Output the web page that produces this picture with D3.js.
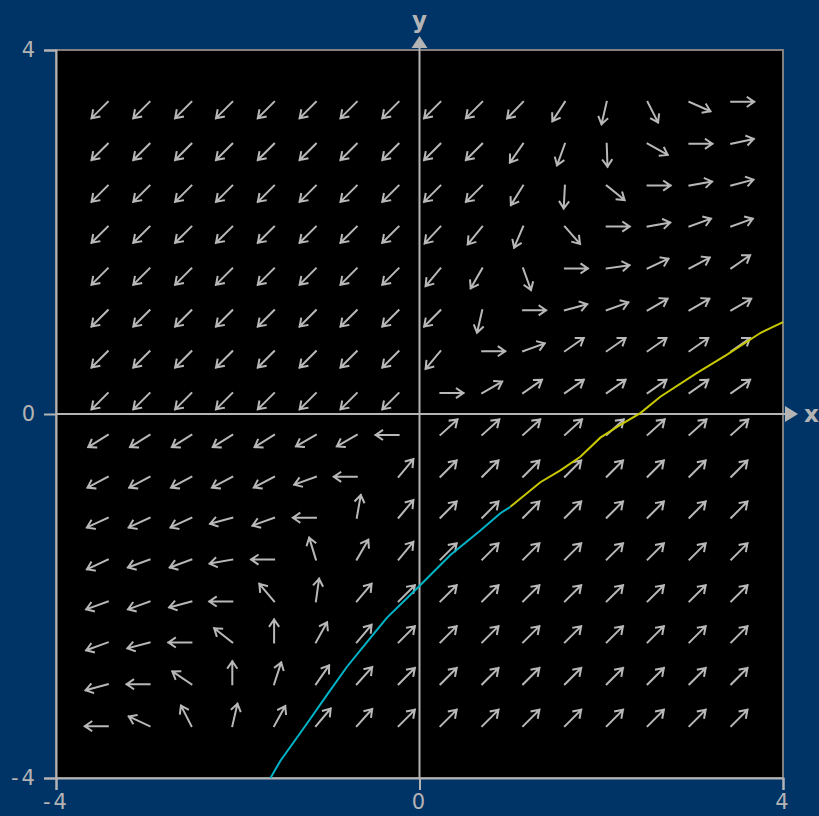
<!DOCTYPE html>
<html lang="en">
<head>
    <meta charset="UTF-8">
    <title>D3 - direction field</title>
    <style>
        body{
            margin : 0;
            background-color: #003366;
        }
        text{
            font-family : "DejaVu Sans", sans-serif;
        }
    </style>
</head>
<body>
    <script src="https://cdn.jsdelivr.net/npm/d3@7"></script>
    <script>
        // grid points of the field (data units)
        let gridX = [-3.43, -2.97, -2.51, -2.06, -1.60, -1.14, -0.69, -0.23, 0.23, 0.69, 1.14, 1.60, 2.06, 2.51, 2.97, 3.43];
        let gridY = [3.43, 2.97, 2.51, 2.06, 1.60, 1.14, 0.69, 0.23, -0.23, -0.69, -1.14, -1.60, -2.06, -2.51, -2.97, -3.43];

        // arrow direction in degrees, one row per gridY value (top to bottom)
        let angles = [
            [225,225,225,225,225,225,225,225, 225,225,226,237,257,297,336,0],
            [225,225,225,225,225,225,225,225, 225,225,235,250,272,331,0,12],
            [225,225,225,225,225,225,225,225, 225,225,238,267,321,0,10,15],
            [225,225,225,225,225,225,225,225, 227,231,247,311,0,10,20,20],
            [225,225,225,225,225,225,225,225, 230,240,290,0,8,25,28,35],
            [225,225,225,225,225,225,225,225, 225,257,0,15,20,30,30,30],
            [225,225,225,225,225,225,225,225, 230,0,20,35,35,35,35,35],
            [225,225,225,225,225,225,225,225, 0,30,35,35,35,35,35,35],
            [212,212,212,212,212,210,210,180, 42,42,42,42,42,42,42,42],
            [208,208,208,208,208,200,180,50, 45,45,45,45,45,45,45,45],
            [205,205,205,195,200,180,80,50, 45,45,45,45,45,45,45,45],
            [205,200,200,190,180,107,60,50, 45,45,45,45,45,45,45,45],
            [200,200,195,180,130,82,50,45, 45,45,45,45,45,45,45,45],
            [200,195,180,142,90,61,50,45, 45,45,45,45,45,45,45,45],
            [195,180,146,90,72,55,48,45, 45,45,45,45,45,45,45,45],
            [180,155,117,77,61,50,48,45, 45,45,45,45,45,45,45,45]
        ];

        // solution through (1,-1): backward part and forward part
        let backX = [1.00, 0.89, 0.67, 0.34, -0.02, -0.36, -0.54, -0.80, -1.02, -1.23, -1.53, -1.64];
        let backY = [-1.02, -1.09, -1.28, -1.55, -1.91, -2.24, -2.46, -2.78, -3.09, -3.39, -3.81, -4.00];
        let forwX = [1.00, 1.33, 1.55, 1.77, 1.99, 2.21, 2.43, 2.65, 3.05, 3.38, 3.75, 4.00];
        let forwY = [-1.02, -0.75, -0.62, -0.47, -0.26, -0.12, 0.01, 0.19, 0.45, 0.65, 0.89, 1.01];

        let ticks = [-4, 0, 4];

        let largeur = 819, hauteur = 816;
        let gris = '#b4b4b4';

        let canevas = d3.select('body')
            .append('svg')
                .attr('width', largeur)
                .attr('height', hauteur)

        canevas.append('rect')
            .attr('width', largeur)
            .attr('height', hauteur)
            .attr('fill', '#003366')

        let x = d3.scaleLinear().domain([-4, 4]).range([56, 783]);
        let y = d3.scaleLinear().domain([-4, 4]).range([778, 50]);

        // plot area
        canevas.append('rect')
            .attr('x', x(-4))
            .attr('y', y(4))
            .attr('width', x(4) - x(-4))
            .attr('height', y(-4) - y(4))
            .attr('fill', 'black')
            .attr('stroke', '#808080')
            .attr('stroke-width', 2)

        // axes with the 3 ticks
        let format = d => d === 0 ? '0' : (d < 0 ? '-' + (-d) : d);
        canevas.append('g')
            .attr('transform', `translate(${x(-4)},0)`)
            .call(d3.axisLeft(y).tickValues(ticks).tickSize(12).tickPadding(6).tickFormat(format))
        canevas.append('g')
            .attr('transform', `translate(0,${y(-4)})`)
            .call(d3.axisBottom(x).tickValues(ticks).tickSize(12).tickPadding(4).tickFormat(format))

        canevas.selectAll('.domain, .tick line')
            .attr('stroke', gris)
            .attr('stroke-width', 2)
        canevas.selectAll('.tick text')
            .attr('fill', gris)
            .style('font-size', '21px')
            .style('letter-spacing', '3px')
            .style('font-family', '"DejaVu Sans", sans-serif')

        // x = 0 and y = 0 lines with arrowheads
        canevas.append('line')
            .attr('x1', x(0)).attr('y1', y(-4))
            .attr('x2', x(0)).attr('y2', y(4) - 4)
            .attr('stroke', gris)
            .attr('stroke-width', 2)
        canevas.append('line')
            .attr('x1', x(-4)).attr('y1', y(0))
            .attr('x2', x(4) + 4).attr('y2', y(0))
            .attr('stroke', gris)
            .attr('stroke-width', 2)
        canevas.append('path')
            .attr('d', `M${x(0) - 8},${y(4) - 2} L${x(0)},${y(4) - 14} L${x(0) + 8},${y(4) - 2} Z`)
            .attr('fill', gris)
        canevas.append('path')
            .attr('d', `M${x(4) + 2},${y(0) - 8} L${x(4) + 15},${y(0)} L${x(4) + 2},${y(0) + 8} Z`)
            .attr('fill', gris)

        canevas.append('text')
            .attr('x', x(0))
            .attr('y', 28)
            .attr('text-anchor', 'middle')
            .style('font-size', '23px')
            .style('font-weight', 'bold')
            .attr('fill', gris)
            .text('y')
        canevas.append('text')
            .attr('x', x(4) + 21)
            .attr('y', y(0) + 8)
            .style('font-size', '23px')
            .style('font-weight', 'bold')
            .attr('fill', gris)
            .text('x')

        // field arrows
        let fleches = [];
        angles.forEach((ligne, j) => {
            ligne.forEach((a, i) => {
                fleches.push({gx : gridX[i], gy : gridY[j], a : a});
            });
        });

        let longueur = 23, tete = 8;
        function dessineFleche(d){
            let r = d.a * Math.PI / 180;
            let x0 = x(d.gx), y0 = y(d.gy);
            let x1 = x0 + longueur * Math.cos(r), y1 = y0 - longueur * Math.sin(r);
            let r1 = r + Math.PI - 0.6, r2 = r + Math.PI + 0.6;
            return `M${x0},${y0} L${x1},${y1} M${x1 + tete * Math.cos(r1)},${y1 - tete * Math.sin(r1)} L${x1},${y1} L${x1 + tete * Math.cos(r2)},${y1 - tete * Math.sin(r2)}`;
        }

        canevas.append('g').selectAll('path')
            .data(fleches)
            .enter()
            .append('path')
                .attr('d', d => dessineFleche(d))
                .attr('fill', 'none')
                .attr('stroke', '#b8b8b8')
                .attr('stroke-width', 2)
                .attr('stroke-linecap', 'square')

        // solution curve
        let ligne = d3.line().x(d => x(d[0])).y(d => y(d[1]));
        canevas.append('path')
            .datum(backX.map((v, i) => [v, backY[i]]))
            .attr('d', ligne)
            .attr('fill', 'none')
            .attr('stroke', '#00b4c8')
            .attr('stroke-width', 2)
        canevas.append('path')
            .datum(forwX.map((v, i) => [v, forwY[i]]))
            .attr('d', ligne)
            .attr('fill', 'none')
            .attr('stroke', '#c8c800')
            .attr('stroke-width', 2)
    </script>
</body>
</html>
